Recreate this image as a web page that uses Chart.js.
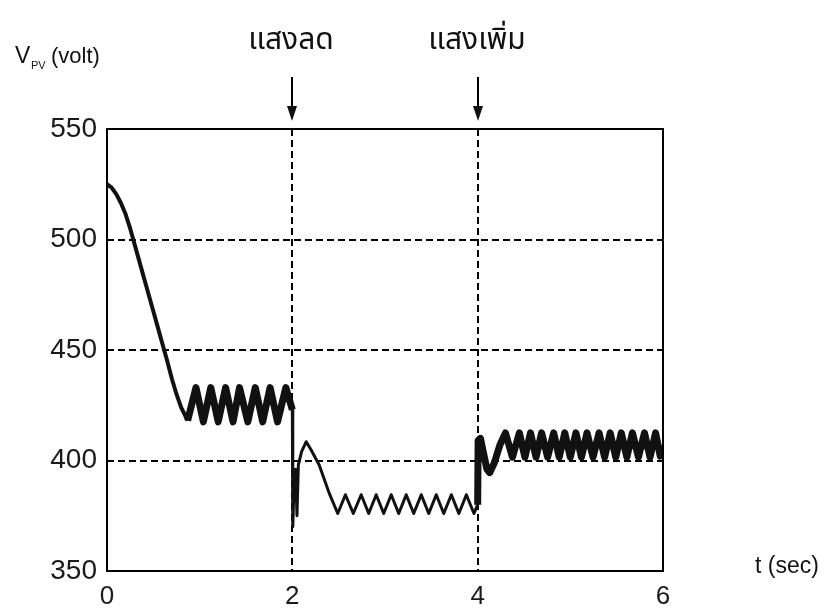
<!DOCTYPE html>
<html lang="th">
<head>
    <meta charset="UTF-8">
    <title>V_PV response</title>
    <style>
        html, body { margin: 0; padding: 0; background: #fff; }
        #chart-container { width: 828px; height: 612px; }
    </style>
</head>
<body>
    <div id="chart-container">
        <canvas id="pvChart" width="828" height="612"></canvas>
    </div>

    <script src="https://cdn.jsdelivr.net/npm/chart.js"></script>
    <script>
        // Start-up decay from 525 V
        var tDecay = [0, 0.05, 0.1, 0.15, 0.2, 0.25, 0.3, 0.35, 0.4, 0.45, 0.5, 0.55, 0.6, 0.65, 0.7, 0.75, 0.8, 0.87];
        var vDecay = [525, 523.5, 520.5, 516.5, 511.5, 505, 497.5, 490, 482.5, 475, 467.5, 460, 452.5, 445, 437, 430, 424, 418];

        // Ripple around 425 V until the light drops
        var tRipple = [0.87, 0.96, 1.04, 1.12, 1.20, 1.28, 1.36, 1.43, 1.52, 1.60, 1.68, 1.76, 1.84, 1.93, 2.0];
        var vRipple = [418, 433, 417.5, 433, 417.5, 433, 417.5, 433, 417.5, 433, 417.5, 433, 417.5, 433, 423];

        // Light decreased at t = 2 s
        var tLow = [2.0, 2.005, 2.02, 2.035, 2.05, 2.065, 2.1, 2.15, 2.2, 2.29, 2.4, 2.49,
            2.573, 2.658, 2.743, 2.824, 2.905, 2.986, 3.067, 3.148, 3.229, 3.31, 3.391, 3.472,
            3.553, 3.634, 3.716, 3.797, 3.878, 3.96, 4.0];
        var vLow = [423, 370, 392, 396, 375, 398, 404, 408.5, 405, 398, 385, 376,
            384.5, 376, 384.5, 376, 384.5, 376, 384.5, 376, 384.5, 376, 384.5, 376,
            384.5, 376, 384.5, 376, 384.5, 376, 380];

        // Light increased at t = 4 s
        var tHigh = [4.0, 4.005, 4.03, 4.06, 4.1, 4.13, 4.18, 4.24, 4.30, 4.375, 4.45, 4.51, 4.57, 4.63, 4.69,
            4.755, 4.82, 4.88, 4.94, 5.0, 5.06, 5.12, 5.18, 5.245, 5.31, 5.37, 5.43, 5.49, 5.55,
            5.61, 5.67, 5.735, 5.80, 5.86, 5.92, 5.97, 6.0];
        var vHigh = [380, 409, 410, 404, 396, 394.5, 399, 407, 412.5, 401.5, 412.5, 401.5, 412.5, 401.5, 412.5,
            401.5, 412.5, 401.5, 412.5, 401.5, 412.5, 401.5, 412.5, 401.5, 412.5, 401.5, 412.5, 401.5, 412.5,
            401.5, 412.5, 401.5, 412.5, 401.5, 412.5, 402, 407];

        var xTicks = [0, 2, 4, 6];
        var yTicks = [350, 400, 450, 500, 550];
        var yGrid = [400, 450, 500];
        var xGrid = [2, 4];
        var events = [{ t: 2, label: 'แสงลด' }, { t: 4, label: 'แสงเพิ่ม' }];

        function toPoints(ts, vs) {
            return ts.map(function (t, i) { return { x: t, y: vs[i] }; });
        }

        function trace(ts, vs, width) {
            return {
                data: toPoints(ts, vs),
                borderColor: '#111',
                borderWidth: width,
                borderJoinStyle: 'round',
                pointRadius: 0,
                tension: 0
            };
        }

        var numFont = "'Liberation Sans', Arial, sans-serif";
        var thaiFont = "'Noto Sans Thai', 'Loma', 'Garuda', 'Waree', 'Norasi', 'Tlwg Typo', sans-serif";

        // box, arrows and free text around the plot
        var decorations = {
            id: 'decorations',
            afterDraw: function (chart) {
                var ctx = chart.ctx;
                var area = chart.chartArea;
                var xs = chart.scales.x;
                ctx.save();
                ctx.strokeStyle = '#000';
                ctx.lineWidth = 2;
                ctx.strokeRect(area.left, area.top, area.right - area.left, area.bottom - area.top);

                ctx.fillStyle = '#111';
                events.forEach(function (ev) {
                    var px = Math.round(xs.getPixelForValue(ev.t));
                    ctx.beginPath();
                    ctx.moveTo(px, 77);
                    ctx.lineTo(px, 110);
                    ctx.stroke();
                    ctx.beginPath();
                    ctx.moveTo(px - 5, 106);
                    ctx.lineTo(px + 5, 106);
                    ctx.lineTo(px, 121);
                    ctx.closePath();
                    ctx.fill();

                    ctx.font = '30px ' + thaiFont;
                    ctx.textAlign = 'center';
                    ctx.textBaseline = 'alphabetic';
                    ctx.fillText(ev.label, px - 1, 49);
                });

                // y axis title with subscript
                ctx.textAlign = 'left';
                ctx.font = '23px ' + numFont;
                ctx.fillText('V', 15, 63);
                ctx.font = '11px ' + numFont;
                ctx.fillText('PV', 31, 69);
                ctx.font = '22px ' + numFont;
                ctx.fillText('(volt)', 51, 63);

                // x axis title
                ctx.font = '23px ' + numFont;
                ctx.fillText('t (sec)', 755, 573);
                ctx.restore();
            }
        };

        var ctx = document.getElementById('pvChart').getContext('2d');
        var pvChart = new Chart(ctx, {
            type: 'line',
            data: {
                datasets: [
                    trace(tDecay, vDecay, 4),
                    trace(tRipple, vRipple, 7),
                    trace(tLow, vLow, 3),
                    trace(tHigh, vHigh, 7)
                ]
            },
            options: {
                responsive: false,
                animation: false,
                devicePixelRatio: 1,
                layout: { padding: { left: 0, right: 165, top: 129, bottom: 0 } },
                plugins: {
                    legend: { display: false },
                    tooltip: { enabled: false }
                },
                scales: {
                    x: {
                        type: 'linear',
                        min: 0,
                        max: 6,
                        afterFit: function (scale) { scale.height = 41; },
                        afterBuildTicks: function (scale) {
                            scale.ticks = xTicks.map(function (v) { return { value: v }; });
                        },
                        ticks: {
                            color: '#1a1a1a',
                            padding: 10,
                            maxRotation: 0,
                            font: { family: numFont, size: 26 }
                        },
                        grid: {
                            drawTicks: false,
                            lineWidth: 2,
                            color: function (c) {
                                return c.tick && xGrid.indexOf(c.tick.value) >= 0 ? '#000' : 'rgba(0,0,0,0)';
                            }
                        },
                        border: { display: false, dash: [7, 4] }
                    },
                    y: {
                        min: 350,
                        max: 550,
                        afterFit: function (scale) { scale.width = 107; },
                        afterBuildTicks: function (scale) {
                            scale.ticks = yTicks.map(function (v) { return { value: v }; });
                        },
                        ticks: {
                            color: '#1a1a1a',
                            padding: 10,
                            font: { family: numFont, size: 28 }
                        },
                        grid: {
                            drawTicks: false,
                            lineWidth: 2,
                            color: function (c) {
                                return c.tick && yGrid.indexOf(c.tick.value) >= 0 ? '#000' : 'rgba(0,0,0,0)';
                            }
                        },
                        border: { display: false, dash: [7, 4] }
                    }
                }
            },
            plugins: [decorations]
        });
    </script>
</body>
</html>
